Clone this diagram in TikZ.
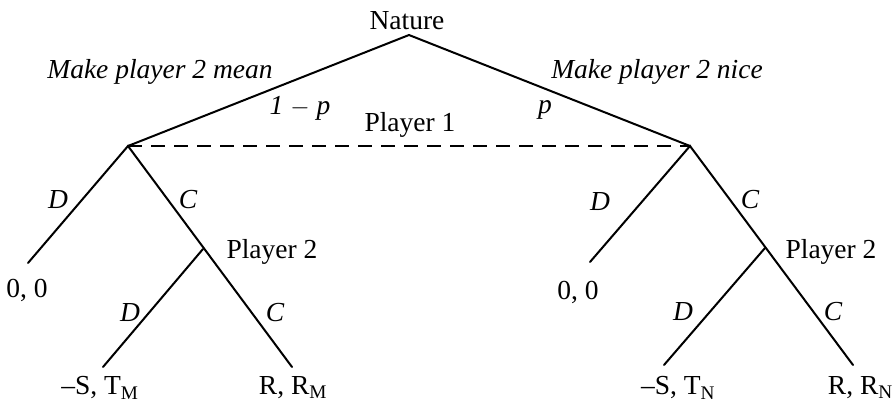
\documentclass[tikz,border=0pt]{standalone}
\usepackage{fontspec}
\setmainfont{Liberation Serif}
\begin{document}
\begin{tikzpicture}[x=1pt,y=-1pt,font=\fontsize{27.5}{30}\selectfont,
  edge/.style={line width=2pt,line cap=round},
  info/.style={line width=1.7pt,dash pattern=on 14pt off 9pt},
  lab/.style={inner sep=0pt,font=\fontsize{27.5}{30}\selectfont\itshape},
  txt/.style={inner sep=0pt}]
\useasboundingbox (0,0) rectangle (895,410);
% decision points
\coordinate (N) at (409,35);
\coordinate (A) at (128,146);
\coordinate (B) at (690,146);
\coordinate (A2) at (203,249);
\coordinate (B2) at (765,248);
% leaves
\coordinate (AD) at (28,263);
\coordinate (A2D) at (103,367);
\coordinate (A2C) at (292,367);
\coordinate (BD) at (590,262);
\coordinate (B2D) at (664,365);
\coordinate (B2C) at (853,365);
% edges
\draw[edge] (A) -- (N) -- (B);
\draw[info] (A) -- (B);
\draw[edge] (AD) -- (A) -- (A2C);
\draw[edge] (A2) -- (A2D);
\draw[edge] (BD) -- (B) -- (B2C);
\draw[edge] (B2) -- (B2D);
% labels
\node[txt] (tN) at (407,21) {Nature};
\node[lab] (tmean) at (160,72) {Make player 2 mean};
\node[lab] (t1p) at (300,108) {1 \textup{$-$} p};
\node[txt] (tP1) at (410,125) {Player 1};
\node[lab] (tnice) at (657,72) {Make player 2 nice};
\node[lab] (tp) at (545,110) {p};
% left subtree labels
\node[lab] (lD) at (58,200) {D};
\node[lab] (lC) at (188,200) {C};
\node[txt] (lP2) at (272,252) {Player 2};
\node[lab] (lD2) at (130,313) {D};
\node[lab] (lC2) at (275,313) {C};
\node[txt] (l00) at (27,290) {0, 0};
\node[txt] (lST) at (100,388) {--S, T\textsubscript{M}};
\node[txt] (lRR) at (293,388) {R, R\textsubscript{M}};
% right subtree labels
\node[lab] (rD) at (600,202) {D};
\node[lab] (rC) at (750,200) {C};
\node[txt] (rP2) at (831,252) {Player 2};
\node[lab] (rD2) at (683,312) {D};
\node[lab] (rC2) at (833,312) {C};
\node[txt] (r00) at (578,292) {0, 0};
\node[txt] (rST) at (678,388) {--S, T\textsubscript{N}};
\node[txt,anchor=east] (rRR) at (893,388) {R, R\textsubscript{N}};
\end{tikzpicture}
\end{document}
